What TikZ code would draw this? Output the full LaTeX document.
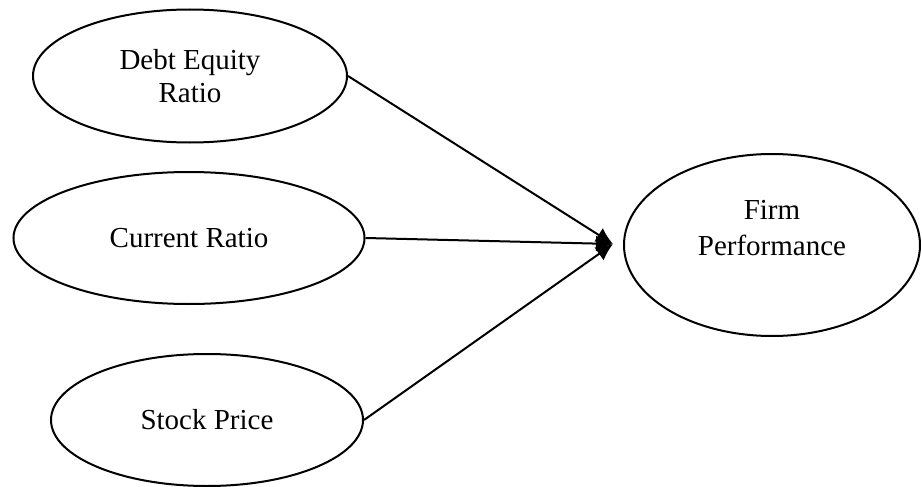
\documentclass[tikz,border=0pt]{standalone}
\usepackage{fontspec}
\setmainfont{Liberation Serif}
\usetikzlibrary{shapes.geometric,arrows.meta}
\tikzset{
    factor/.style={draw, ellipse, line width=2pt, inner sep=0pt},
    link/.style={line width=2pt, -{Latex[length=17pt, width=16pt]}}
}
\begin{document}
\begin{tikzpicture}[x=1pt, y=-1pt]
        \useasboundingbox (0,0) rectangle (922,487);
        \fontsize{29}{33}\selectfont
        \node[factor, minimum width=314pt, minimum height=133pt, align=center] (debt) at (190,76){Debt Equity\\Ratio};
        \node[factor, minimum width=351pt, minimum height=132pt] (curr) at (189,238){Current Ratio};
        \node[factor, minimum width=312pt, minimum height=132pt] (stock) at (207,420){Stock Price};
        \node[factor, minimum width=296pt, minimum height=182pt] (perf) at (772,245){};
        \node[align=center] (perftext) at ([yshift=17pt]perf.center){Firm\\[3pt]Performance};
        \coordinate (hub) at (613,244);
        \draw[link] (debt.east) -- (hub);
        \draw[link] (curr.east) -- (hub);
        \draw[link] (stock.east) -- (hub);
    \end{tikzpicture}
\end{document}
